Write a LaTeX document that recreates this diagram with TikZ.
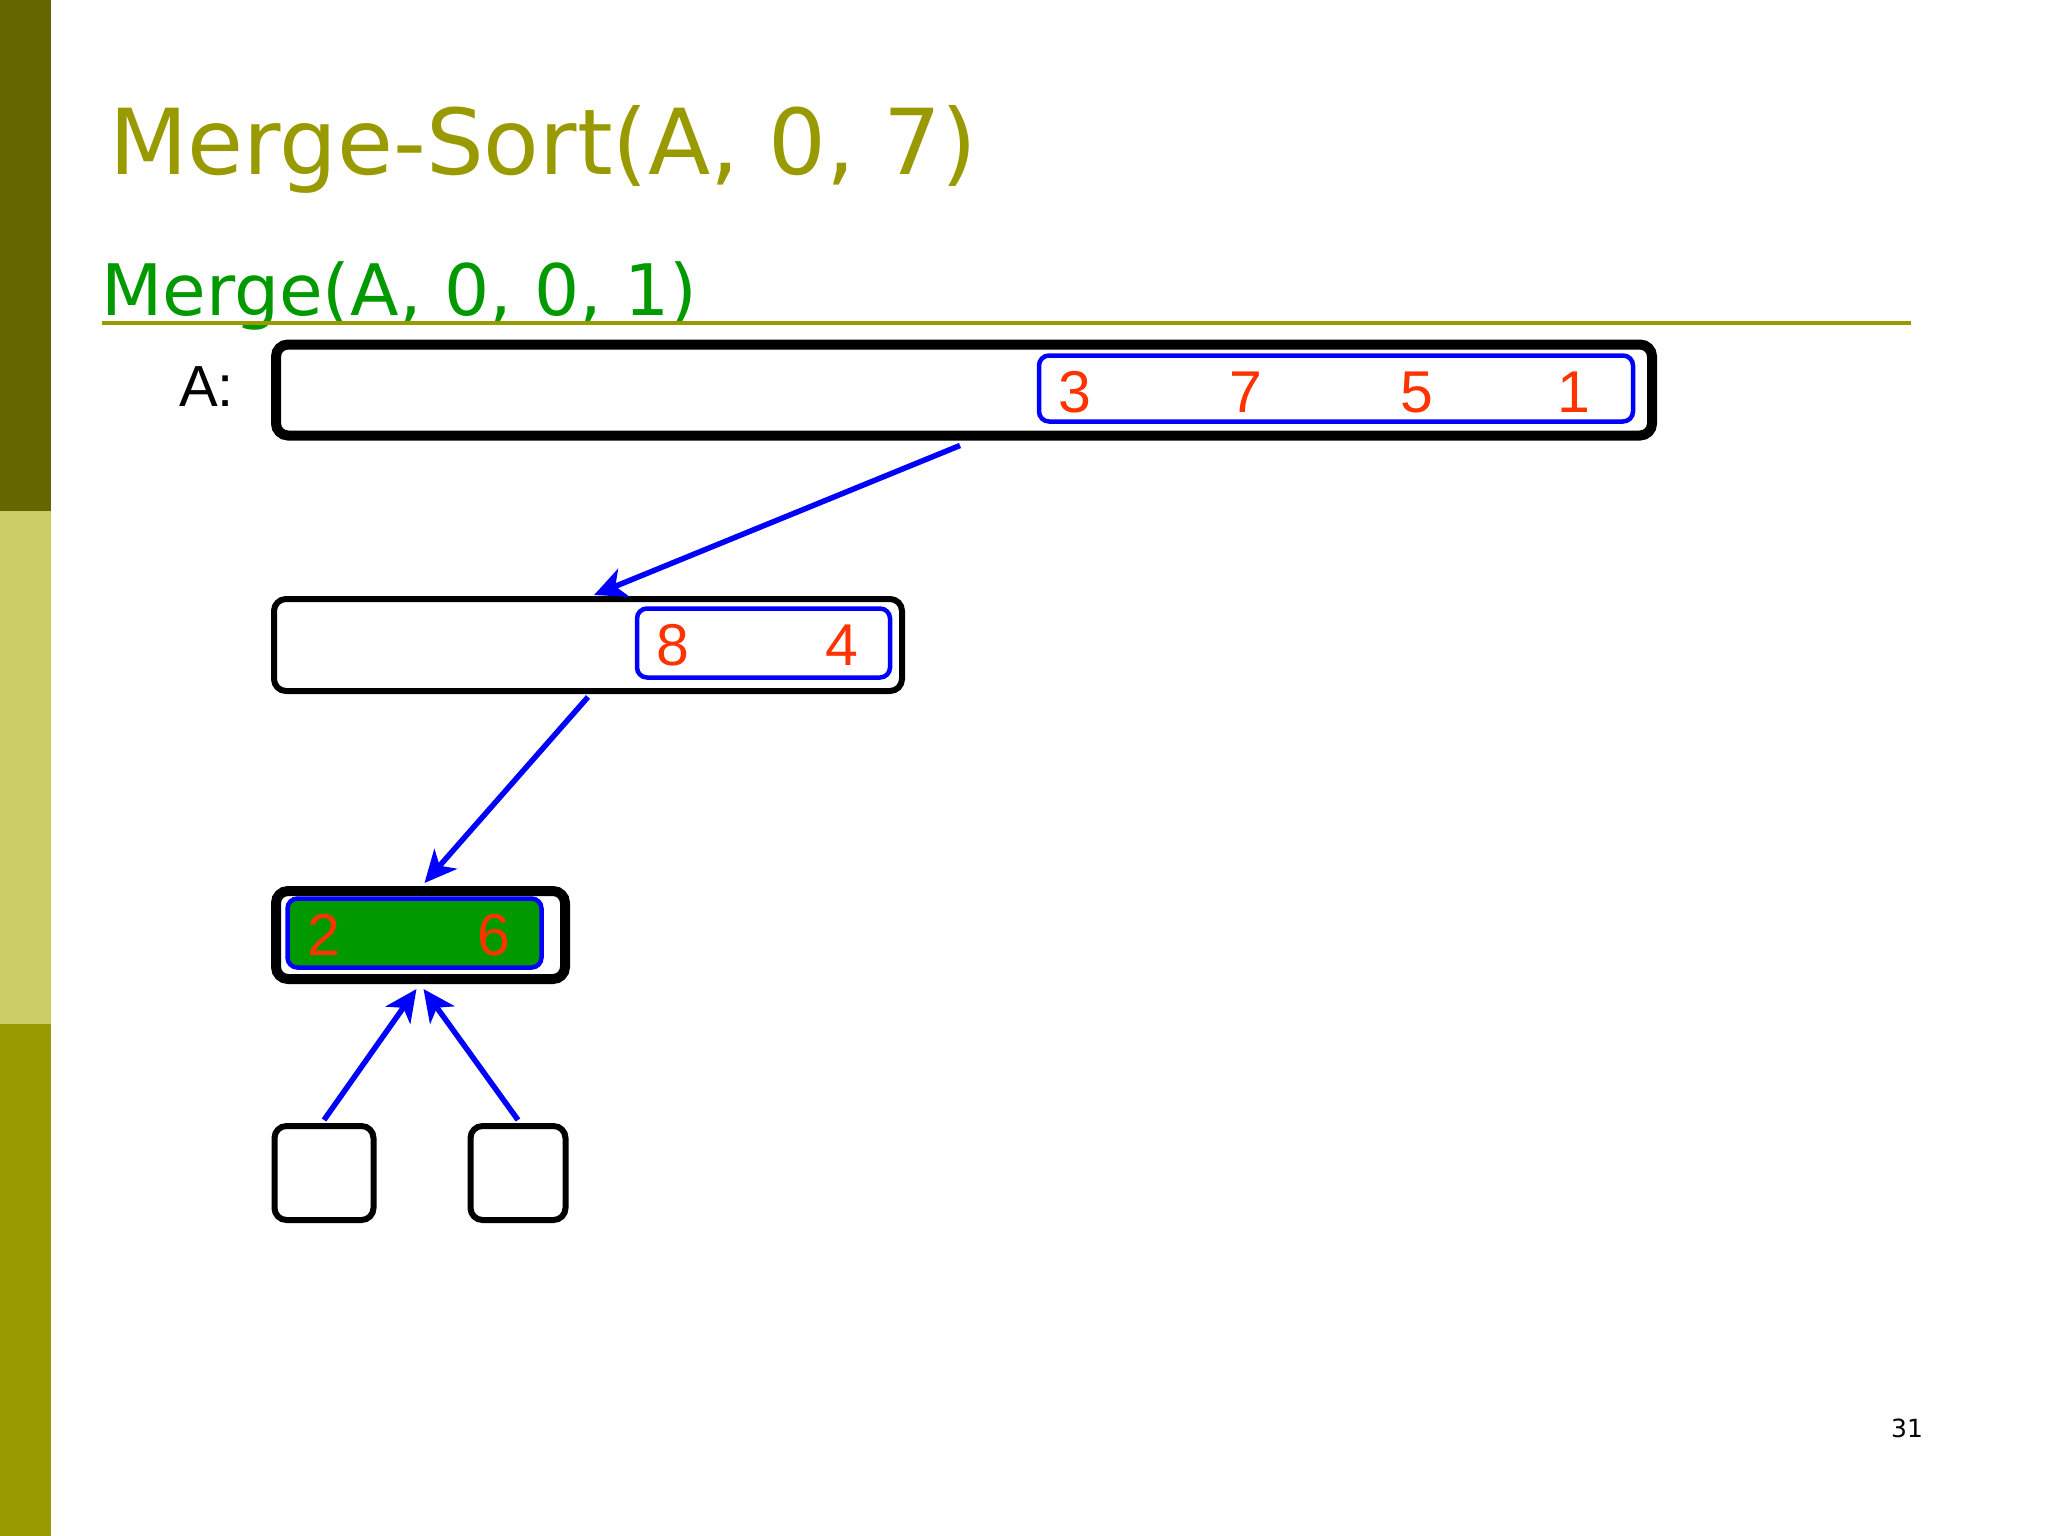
\documentclass[tikz,border=0pt]{standalone}
\usepackage{fontspec}
\setmainfont{DejaVu Sans}
\newfontfamily\arialf{Liberation Sans}
\usetikzlibrary{arrows.meta}
\definecolor{oliveD}{HTML}{666600}
\definecolor{oliveL}{HTML}{CCCC66}
\definecolor{oliveM}{HTML}{999900}
\definecolor{mgreen}{HTML}{009900}
\definecolor{digred}{HTML}{FF3300}
\tikzset{
  outerbox/.style={draw=black, rounded corners=12pt, inner sep=0pt},
  innerbox/.style={draw=blue, line width=4.5pt, rounded corners=10pt, inner sep=0pt},
  digit/.style={font=\arialf\fontsize{59}{61}\selectfont, text=digred, inner sep=0pt},
  arr/.style={draw=blue, line width=5.5pt, -{Stealth[length=32pt,width=30pt,inset=9pt]}},
}
\begin{document}
\begin{tikzpicture}[x=1pt,y=-1pt]
\useasboundingbox (0,0) rectangle (2048,1536);
\fill[white] (0,0) rectangle (2048,1536);
% sidebar
\fill[oliveD] (0,0) rectangle (51,511);
\fill[oliveL] (0,511) rectangle (51,1024);
\fill[oliveM] (0,1024) rectangle (51,1536);
% titles
\node[anchor=base west, inner sep=0pt, text=oliveM, font=\fontsize{91}{94}\selectfont] (title) at (109,175) {Merge-Sort(A, 0, 7)};
\node[anchor=base west, inner sep=0pt, text=mgreen, font=\fontsize{71}{73}\selectfont] (sub) at (101,315) {Merge(A, 0, 0, 1)};
\coordinate (ruleL) at (102,323);
\coordinate (ruleR) at (1911,323);
\draw[oliveM, line width=4pt] (ruleL) -- (ruleR);
\node[anchor=base west, inner sep=0pt, font=\arialf\fontsize{58}{60}\selectfont] (alabel) at (179,406) {A:};
% row 1
\node[outerbox, line width=10pt, minimum width=1376pt, minimum height=91pt] (boxA) at (964,390) {};
\node[innerbox, minimum width=594pt, minimum height=66pt] (inA) at (1336,388.5) {};
\node[digit] (d3) at (1075,392) {3};
\node[digit] (d7) at (1246,392) {7};
\node[digit] (d5) at (1417,392) {5};
\node[digit] (d1) at (1574,392) {1};
% row 2
\node[outerbox, line width=6pt, minimum width=628pt, minimum height=92pt] (box2) at (588,645) {};
\node[innerbox, minimum width=253pt, minimum height=69pt] (in2) at (763.5,643) {};
\node[digit] (d8) at (673,645) {8};
\node[digit] (d4) at (842,645) {4};
% row 3
\node[outerbox, line width=10pt, minimum width=289pt, minimum height=88pt] (box3) at (420.5,935) {};
\node[innerbox, fill=mgreen, minimum width=254pt, minimum height=69pt] (in3) at (414.5,933) {};
\node[digit] (d2) at (324,935) {2};
\node[digit] (d6) at (494,935) {6};
% row 4
\node[outerbox, line width=6pt, minimum width=99pt, minimum height=94pt] (bl) at (324,1173) {};
\node[outerbox, line width=6pt, minimum width=95pt, minimum height=94pt] (br) at (518,1173) {};
% arrows
\draw[arr] ([xshift=-4pt,yshift=-5pt]boxA.south) -- ([xshift=6pt,yshift=1pt]box2.north);
\draw[arr] ([yshift=-3pt]box2.south) -- ([xshift=4pt,yshift=3pt]box3.north);
\draw[arr] ([yshift=3pt]bl.north) -- ([xshift=-4pt,yshift=-5pt]box3.south);
\draw[arr] ([yshift=3pt]br.north) -- ([xshift=3pt,yshift=-5pt]box3.south);
% page number
\node[inner sep=0pt, font=\fontsize{25}{27}\selectfont] (pnum) at (1907,1428) {31};
\end{tikzpicture}
\end{document}
